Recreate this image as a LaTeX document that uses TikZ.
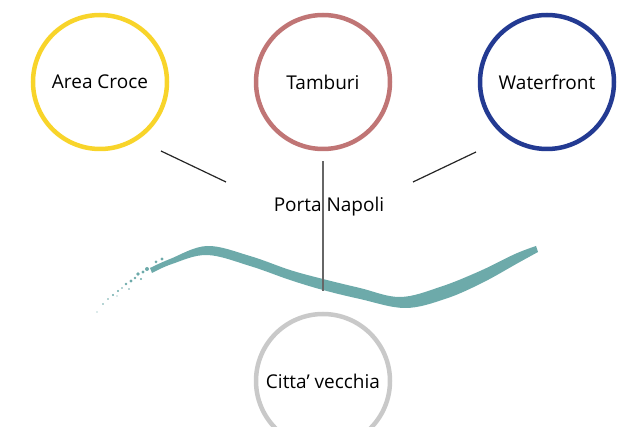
\documentclass[tikz,border=0pt]{standalone}
\usepackage{fontspec}
\setmainfont{Open Sans}
\usepackage{tikz}
\usetikzlibrary{positioning,calc}

\definecolor{croce}{HTML}{F8D42A}
\definecolor{tamb}{HTML}{C07575}
\definecolor{water}{HTML}{233A92}
\definecolor{vecchia}{HTML}{C9C9C9}
\definecolor{canal}{HTML}{6DAAAA}

\begin{document}
\begin{tikzpicture}[
    x=1pt, y=-1pt,
    area/.style={circle, draw, line width=4.5pt, minimum size=134pt, inner sep=0pt, font=\fontsize{19}{22}\selectfont},
    link/.style={line width=1.2pt, black!85},
    axis/.style={line width=1.2pt, black!60}
]
    \useasboundingbox (0,0) rectangle (638,427);

    % Districts
    \node[area, draw=croce] (croce) at (100, 82) {Area Croce};
    \node[area, draw=tamb] (tamburi) at (323, 82) {Tamburi};
    \node[area, draw=water] (water) at (547, 82) {Waterfront};
    \node[area, draw=vecchia] (citta) at (323, 381) {Citta' vecchia};

    % Gate
    \node[font=\fontsize{19}{22}\selectfont] (porta) at (329, 207) {Porta Napoli};

    % Canal
    \fill[canal] plot[smooth, tension=0.6] coordinates {(150,268) (170,259) (207,246) (250,256) (290,270) (323,279) (360,288) (400,297) (440,287) (480,271) (515,254) (536,246)}
        -- plot[smooth, tension=0.6] coordinates {(538,252) (518,263) (482,283) (445,299) (405,308) (360,299) (323,290) (290,280) (250,266) (207,255) (172,264) (152,273)} -- cycle;
    \foreach \px/\py/\r in {97/312/0.7, 103/304/0.9, 108/299/0.8, 113/295/1.1, 118/291/1.2, 122/288/0.9, 126/284/1.4, 131/281/1.6, 135/278/1.3,
        138/274/1.8, 143/272/1.6, 147/269/2, 129/289/0.9, 117/296/0.7, 141/279/1.1, 156/262/1.5, 162/259/1.7}
        \fill[canal] (\px,\py) circle (\r);

    % Links
    \coordinate (croceA) at ($(croce.center)+(61,69)$);
    \coordinate (croceB) at ($(croce.center)+(126,100)$);
    \coordinate (waterA) at ($(water.center)+(-71,70)$);
    \coordinate (waterB) at ($(water.center)+(-134,100)$);
    \draw[link] (croceA) -- (croceB);
    \draw[link] (waterA) -- (waterB);
    \draw[axis] ([yshift=-10pt]tamburi.south) -- ([yshift=21pt]citta.north);
\end{tikzpicture}
\end{document}
